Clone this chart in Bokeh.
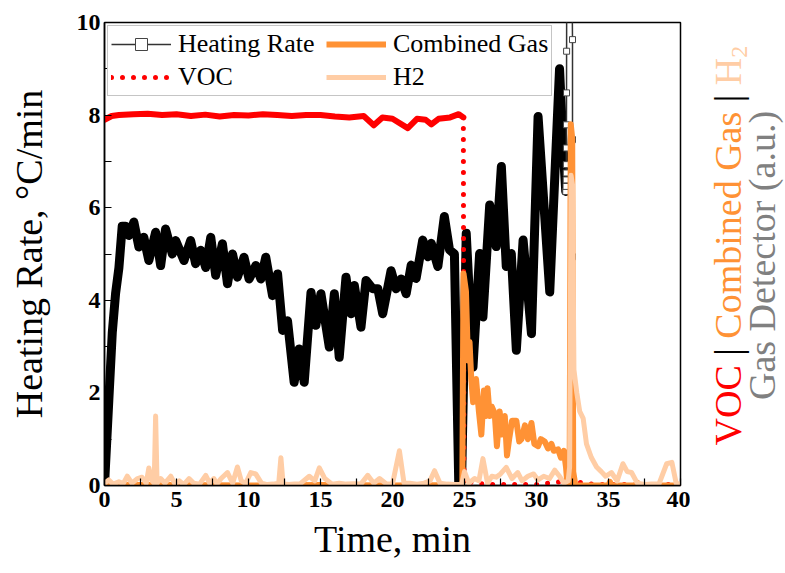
import math
from bokeh.plotting import figure
from bokeh.layouts import row
from bokeh.models import (Range1d, Legend, LegendItem, FixedTicker, ColumnDataSource)
from bokeh.core.properties import value
from bokeh.embed import file_html
from bokeh.resources import INLINE

# ---------------- data ----------------
hr_t = [
    0, 0.3, 0.54, 0.77, 1.0, 1.23, 1.46, 1.69, 2.04, 2.39,
    2.73, 3.08, 3.55, 3.9, 4.24, 4.71, 4.94, 5.52, 5.98, 6.33,
    6.68, 7.03, 7.38, 7.72, 8.19, 8.54, 8.89, 9.23, 9.69, 10.04,
    10.51, 10.86, 11.2, 11.67, 12.02, 12.37, 12.71, 13.17, 13.52, 13.87,
    14.34, 14.68, 15.03, 15.61, 15.96, 16.3, 16.77, 17.12, 17.35, 17.81,
    18.16, 18.63, 18.98, 19.32, 19.9, 20.25, 20.6, 20.95, 21.3, 21.64,
    22.1, 22.46, 22.69, 23.15, 23.6, 23.96, 24.3, 24.45, 24.6, 24.8,
    24.95, 25.12, 25.59, 26.05, 26.28, 26.75, 27.2, 27.56, 27.9, 28.25,
    28.6, 29.07, 29.65, 30.11, 30.92, 31.6, 31.85, 32.03,
    32.05, 32.06, 32.065, 32.07, 32.075, 32.08, 32.085, 32.09, 32.1, 32.45,
    32.5, 32.5, 32.5, 32.5, 32.52]
hr_v = [
    0, 1.84, 3.3, 4.15, 4.7, 5.6, 5.6, 5.4, 5.69, 5.15,
    5.36, 4.86, 5.47, 4.75, 5.54, 5.0, 5.29, 4.86, 5.29, 4.79,
    5.08, 4.71, 5.36, 4.54, 5.22, 4.36, 5.0, 4.5, 4.93, 4.46,
    4.75, 4.46, 4.93, 4.1, 4.57, 3.35, 3.56, 2.23, 2.95, 2.23,
    4.17, 3.46, 4.14, 2.99, 4.14, 2.77, 4.5, 3.71, 4.32, 3.42,
    4.43, 4.25, 4.25, 3.71, 4.64, 4.25, 4.46, 4.14, 4.76, 4.47,
    5.3, 4.94, 5.23, 4.73, 5.81, 5.09, 5.0, 2.5, 0.05, 0.1,
    2.5, 5.45, 2.56, 5.01, 3.64, 6.06, 5.16, 6.89, 4.73, 5.01,
    2.92, 5.3, 3.28, 7.97, 4.18, 9.0, 7.3, 6.35,
    6.46, 6.6, 6.75, 6.93, 7.29, 7.79, 8.48, 9.38, 11.5, 11.5,
    9.63, 7.47, 4.94, 2.06, -1.0]
HR_SPLIT = 87  # last dense point; afterwards the sparse run-away points

voc_t = [0, 0.5, 1, 2, 3, 4, 5, 6, 7, 8,
         9, 10, 11, 12, 13, 14, 15, 16, 17, 18,
         18.7, 19.3, 20, 21.06, 21.7, 22.3, 22.7, 23.2, 24, 24.6,
         24.92, 24.96, 25.6, 26.5, 28, 30, 31.7, 32.8, 34, 36,
         38, 40]
voc_v = [7.9, 7.98, 8.0, 8.02, 8.03, 8.0, 8.02, 7.98, 8.01, 7.97,
         8.0, 7.99, 8.02, 8.0, 7.98, 8.0, 8.0, 7.97, 7.95, 7.98,
         7.78, 7.95, 7.92, 7.72, 7.92, 7.9, 7.8, 7.92, 7.95, 8.02,
         7.95, 0.03, 0.08, 0.02, 0.02, 0.02, 0.08, 0.08, 0.02, 0.02,
         0.02, 0.02]
VOC_SPLIT = 30

cg_t = [0, 5, 10, 15, 20, 24.85, 24.93, 25.1, 25.24, 25.35,
        25.47, 25.6, 25.8, 26.0, 26.17, 26.35, 26.5, 26.6, 26.75, 26.9,
        27.1, 27.25, 27.44, 27.6, 27.8, 27.95, 28.1, 28.3, 28.6, 28.8,
        28.95, 29.2, 29.4, 29.65, 29.85, 30.11, 30.3, 30.57, 30.8, 31.04,
        31.2, 31.5, 31.7, 31.9, 32.05, 32.15, 32.3, 32.38, 32.48, 32.55,
        32.7, 35.0, 35.1, 35.2, 36.9, 37.0, 37.1, 40]
cg_v = [0.01, 0.01, 0.0, 0.01, 0.0, 0.01, 4.58, 4.2, 2.7, 3.1,
        2.3, 1.8, 2.3, 1.6, 1.1, 2.05, 1.5, 2.1, 1.5, 1.7,
        1.55, 0.85, 1.6, 1.1, 1.5, 0.65, 1.0, 1.4, 1.4, 0.95,
        1.0, 1.3, 1.0, 1.35, 0.9, 0.85, 1.0, 0.95, 0.8, 0.9,
        0.75, 0.78, 0.6, 0.75, 0.4, 0.0, 0.0, 7.8, 7.5, 0.3,
        0.0, 0.0, 0.08, 0.0, 0.0, 0.06, 0.0, 0.0]

h2_t = [0, 0.3, 0.6, 1.0, 1.3, 1.58, 1.9, 2.3, 2.6, 2.9,
        3.08, 3.3, 3.45, 3.55, 3.65, 3.9, 4.2, 4.6, 4.9, 5.2,
        5.5, 5.87, 6.2, 6.6, 7.03, 7.3, 7.6, 7.8, 8.1, 8.54,
        8.9, 9.23, 9.5, 9.8, 10.16, 10.5, 10.9, 11.3, 11.7, 12.1,
        12.25, 12.4, 12.8, 13.2, 13.6, 14.22, 14.6, 14.92, 15.3, 15.8,
        16.3, 16.8, 17.3, 17.8, 18.28, 18.7, 19.1, 19.6, 20.0, 20.48,
        20.8, 21.2, 21.7, 22.2, 22.6, 22.92, 23.3, 23.8, 24.3, 24.8,
        25.0, 25.3, 25.7, 26.0, 26.28, 26.6, 26.9, 27.2, 27.5, 27.9,
        28.3, 28.7, 29.0, 29.4, 29.8, 30.1, 30.5, 30.9, 31.27, 31.6,
        31.9, 32.2, 32.3, 32.4, 32.5, 32.6, 32.8, 33.0, 33.24, 33.47,
        33.8, 34.17, 34.5, 34.8, 35.2, 35.6, 36.0, 36.3, 36.6, 37.0,
        37.5, 38.0, 38.5, 39.04, 39.4, 39.7, 40.0]
h2_v = [0.05, 0.12, 0.03, 0.08, 0.04, 0.2, 0.05, 0.15, 0.18, 0.05,
        0.38, 0.1, 0.05, 1.5, 0.05, 0.15, 0.05, 0.2, 0.03, 0.1,
        0.02, 0.15, 0.05, 0.03, 0.22, 0.05, 0.15, 0.03, 0.15, 0.28,
        0.05, 0.4, 0.1, 0.04, 0.28, 0.25, 0.05, 0.02, 0.03, 0.05,
        0.6, 0.04, 0.02, 0.03, 0.04, 0.2, 0.1, 0.38, 0.15, 0.03,
        0.05, 0.03, 0.04, 0.03, 0.22, 0.05, 0.15, 0.03, 0.03, 0.75,
        0.05, 0.05, 0.03, 0.05, 0.1, 0.32, 0.05, 0.03, 0.02, 0.02,
        0.3, 0.05, 0.15, 0.1, 0.58, 0.05, 0.2, 0.18, 0.25, 0.39,
        0.15, 0.28, 0.1, 0.2, 0.25, 0.12, 0.2, 0.15, 0.33, 0.2,
        0.05, 0.1, 0.4, 6.7, 6.5, 2.5, 2.0, 1.6, 1.45, 0.9,
        0.61, 0.4, 0.3, 0.2, 0.28, 0.1, 0.47, 0.3, 0.28, 0.05,
        0.02, 0.03, 0.03, 0.47, 0.5, 0.05, 0.02]

x_ticks = [0, 5, 10, 15, 20, 25, 30, 35, 40]
x_minor = [2.5, 7.5, 12.5, 17.5, 22.5, 27.5, 32.5, 37.5]
y_ticks = [0, 2, 4, 6, 8, 10]
y_minor = [1, 3, 5, 7, 9]

# right-hand title: text pieces of the first line, then the second line
title1_parts = ["VOC", "|", "Combined Gas", "|", "H"]
title1_sub = "2"
title2 = "Gas Detector (a.u.)"

# ---------------- styling ----------------
FONT = "Liberation Serif"
C_HR = "black"
C_VOC = "#FF0000"
C_CG = "#FF9235"
C_H2 = "#FFCDA5"
C_GRAY = "#808080"

W, H = 785, 573
MAIN_W = 690
BL, BR, BT, BB = 104, 10, 22, 88

p = figure(width=MAIN_W, height=H, output_backend="svg", toolbar_location=None,
           x_range=Range1d(0, 40), y_range=Range1d(0, 10),
           min_border_left=BL, min_border_right=BR,
           min_border_top=BT, min_border_bottom=BB)
p.grid.visible = False
p.outline_line_color = "black"
p.outline_line_width = 1.5
p.background_fill_color = "white"
p.border_fill_color = "white"

for ax, tk, mn in ((p.xaxis[0], x_ticks, x_minor), (p.yaxis[0], y_ticks, y_minor)):
    ax.ticker = FixedTicker(ticks=tk, minor_ticks=mn)
    ax.axis_line_width = 1.5
    ax.major_tick_in = 7
    ax.major_tick_out = 0
    ax.minor_tick_in = 7
    ax.minor_tick_out = 0
    ax.major_tick_line_width = 1.2
    ax.minor_tick_line_width = 1.2
    ax.major_label_text_font = FONT
    ax.major_label_text_font_style = "bold"
    ax.major_label_text_font_size = "24px"
    ax.major_label_text_color = "black"
    ax.axis_label_text_font = FONT
    ax.axis_label_text_font_style = "normal"
    ax.axis_label_text_font_size = "38px"
    ax.axis_label_text_color = "black"

p.xaxis[0].axis_label = "Time, min"
p.xaxis[0].major_label_standoff = 6
p.xaxis[0].axis_label_standoff = 8
p.yaxis[0].axis_label = "Heating Rate, \u00b0C/min"
p.yaxis[0].major_label_standoff = 4
p.yaxis[0].axis_label_standoff = 24

# ---------------- series ----------------
src_hr_dense = ColumnDataSource(dict(t=hr_t[:HR_SPLIT + 1], v=hr_v[:HR_SPLIT + 1]))
src_hr_sparse = ColumnDataSource(dict(t=hr_t[HR_SPLIT:], v=hr_v[HR_SPLIT:]))
src_voc_flat = ColumnDataSource(dict(t=voc_t[:VOC_SPLIT + 1], v=voc_v[:VOC_SPLIT + 1]))
src_voc_rest = ColumnDataSource(dict(t=voc_t[VOC_SPLIT:], v=voc_v[VOC_SPLIT:]))
src_cg = ColumnDataSource(dict(t=cg_t, v=cg_v))
src_h2 = ColumnDataSource(dict(t=h2_t, v=h2_v))

p.line("t", "v", source=src_hr_dense, line_color=C_HR, line_width=9,
       line_join="round", line_cap="round")
hr_thin = p.line("t", "v", source=src_hr_sparse, line_color="#333333", line_width=1.5)
hr_sq = p.scatter("t", "v", source=src_hr_sparse, marker="square", size=6,
                  line_color="#444444", fill_color="white", line_width=1)

p.line("t", "v", source=src_voc_flat, line_color=C_VOC, line_width=6,
       line_join="round", line_cap="round")
voc_dot = p.line("t", "v", source=src_voc_rest, line_color=C_VOC, line_width=5,
                 line_dash="0 11", line_cap="round")

cg_r = p.line("t", "v", source=src_cg, line_color=C_CG, line_width=6,
              line_join="round")
h2_r = p.line("t", "v", source=src_h2, line_color=C_H2, line_width=5,
              line_join="round")

# ---------------- legend (column-major: col1 = HR, VOC; col2 = CG, H2) ----------------
legend = Legend(items=[
    LegendItem(label="Heating Rate", renderers=[hr_thin, hr_sq]),
    LegendItem(label="VOC", renderers=[voc_dot]),
    LegendItem(label="Combined Gas", renderers=[cg_r]),
    LegendItem(label="H2", renderers=[h2_r]),
], location="top_left", ncols=2)
legend.label_text_font = FONT
legend.label_text_font_size = "26px"
legend.label_text_color = "black"
legend.glyph_width = 60
legend.glyph_height = 30
legend.label_height = 30
legend.label_width = 145
legend.label_standoff = 7
legend.spacing = 3
legend.padding = 3
legend.margin = 3
legend.border_line_color = "#8c8c8c"
legend.border_line_width = 1.2
legend.background_fill_color = "white"
legend.background_fill_alpha = 1
p.add_layout(legend)

# ---------------- right-hand multicoloured title (own panel) ----------------
# the panel's frame is aligned with the main frame (rows 22..485 of the page),
# so its ranges are set so that one unit is one page pixel
RW = W - MAIN_W
q = figure(width=RW, height=H, output_backend="svg", toolbar_location=None,
           x_range=Range1d(MAIN_W, W), y_range=Range1d(H - (H - BB), H - BT),
           x_axis_type=None, y_axis_type=None,
           min_border_left=0, min_border_right=0, min_border_top=0, min_border_bottom=0)
q.grid.visible = False
q.outline_line_color = None
q.background_fill_color = "white"
q.border_fill_color = "white"


def yy(py):
    return H - py


TS = 38
start_y = 445
anchor1 = 727
offsets = [0.0, 89.7, 106.8, 343.2, 360.3]
colors = [C_VOC, "black", C_CG, "black", C_H2]
q.text(x=[anchor1] * len(title1_parts), y=[yy(start_y - o) for o in offsets],
       text=title1_parts, angle=math.pi / 2, text_align="left",
       text_baseline="alphabetic", text_color=colors,
       text_font=value(FONT), text_font_size=f"{TS}px")
q.text(x=[anchor1 + 12], y=[yy(start_y - 387.7)], text=[title1_sub], angle=math.pi / 2,
       text_align="left", text_baseline="alphabetic", text_color=C_H2,
       text_font=value(FONT), text_font_size="24px")
q.text(x=[761], y=[yy(255)], text=[title2], angle=math.pi / 2,
       text_align="center", text_baseline="alphabetic", text_color=C_GRAY,
       text_font=value(FONT), text_font_size=f"{TS}px")

layout = row(p, q, spacing=0)
open("out.html", "w").write(file_html(layout, INLINE))
